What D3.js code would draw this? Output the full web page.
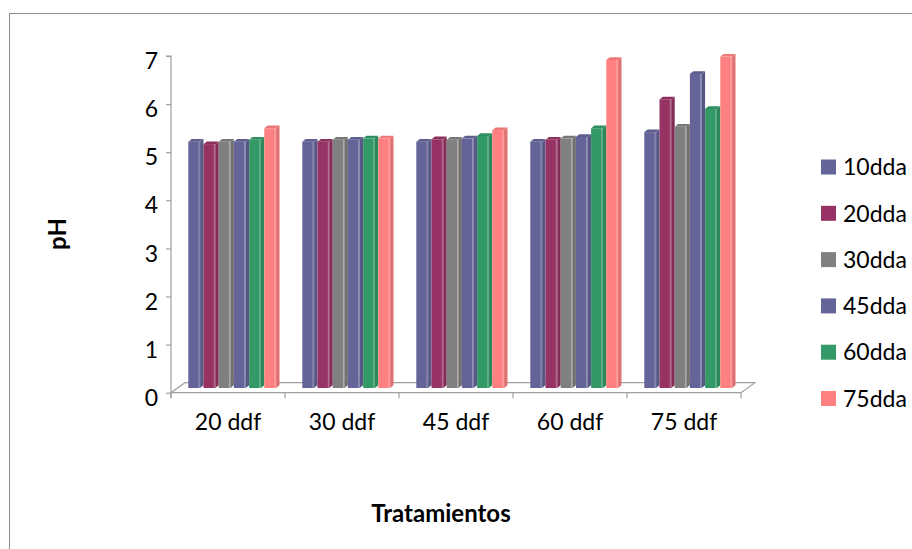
<!DOCTYPE html>
<html>
<head>
<meta charset="utf-8">
<script src="https://cdn.jsdelivr.net/npm/d3@7"></script>
<style>
  body { margin: 0; background: #fff; }
  svg text { font-family: Lato, "Open Sans", sans-serif; fill: #000; }
</style>
</head>
<body>
<svg class="chart"></svg>
<script>
const categories = ['20 ddf', '30 ddf', '45 ddf', '60 ddf', '75 ddf'];
const seriesNames = ['10dda', '20dda', '30dda', '45dda', '60dda', '75dda'];
const seriesColors = ['#646499', '#963264', '#808080', '#646499', '#339966', '#ff8080'];
// pH per series, one value per treatment
const s10 = [5.12, 5.12, 5.12, 5.12, 5.32];
const s20 = [5.07, 5.12, 5.17, 5.16, 6.00];
const s30 = [5.12, 5.16, 5.16, 5.19, 5.43];
const s45 = [5.12, 5.16, 5.19, 5.22, 6.53];
const s60 = [5.16, 5.19, 5.24, 5.40, 5.80];
const s75 = [5.40, 5.19, 5.36, 6.82, 6.89];
const yTicks = [0, 1, 2, 3, 4, 5, 6, 7];

const seriesValues = [s10, s20, s30, s45, s60, s75];
const bars = [];
categories.forEach((c, i) => {
  seriesNames.forEach((s, j) => {
    bars.push({cat: c, series: s, color: seriesColors[j], value: seriesValues[j][i]});
  });
});

const width = 912, height = 549;
const svg = d3.select('.chart')
  .attr('width', width)
  .attr('height', height);

// outer chart frame
svg.append('rect')
  .attr('x', 9.5).attr('y', 13.5)
  .attr('width', 1000).attr('height', 1000)
  .attr('fill', 'none')
  .attr('stroke', '#8c8c8c');

const x = d3.scaleBand().domain(categories).range([171, 741]);
const xs = d3.scaleBand().domain(seriesNames).range([17.3, 17.3 + 91.2]);
const y = d3.scaleLinear().domain([0, 7]).range([392.7, 56]);

// 3d depth offsets
const floorDx = 14, floorDy = -10;
const barOx = 0, barOy = -4.7;
const sideDx = 3.4, sideDy = -2.7;
const frontW = xs.bandwidth() - sideDx;

const axisColor = '#a0a0a0';

// floor
const floor = svg.append('g');
floor.append('path')
  .attr('d', `M${x.range()[0]},${y(0)} L${x.range()[1]},${y(0)} L${x.range()[1] + floorDx},${y(0) + floorDy} L${x.range()[0] + floorDx},${y(0) + floorDy} Z`)
  .attr('fill', '#fff')
  .attr('stroke', axisColor)
  .attr('stroke-width', 1.2);

// y axis
const yAxis = d3.axisLeft(y).tickValues(yTicks).tickFormat(d3.format('d')).tickSize(5).tickPadding(8);
const gy = svg.append('g').attr('transform', 'translate(171,0)').call(yAxis);
gy.select('.domain').attr('stroke', axisColor).attr('stroke-width', 1.2)
  .attr('d', `M-5,${y(7)}H0V${y(0) + 5}`);
gy.selectAll('.tick line').attr('stroke', axisColor).attr('stroke-width', 1.2);
gy.selectAll('.tick text')
  .attr('font-size', 23)
  .attr('font-family', 'Lato, sans-serif')
  .attr('dy', '0.55em')
  .attr('fill', '#000');

// x axis (front edge of floor)
const xAxis = d3.axisBottom(x).tickSize(0).tickPadding(21);
const gx = svg.append('g').attr('transform', `translate(0,${y(0)})`).call(xAxis);
gx.select('.domain').remove();
gx.selectAll('.tick text')
  .attr('font-size', 23)
  .attr('font-family', 'Lato, sans-serif')
  .attr('fill', '#000');
const xTickPos = categories.map(c => x(c)).concat([x.range()[1]]);
svg.append('g').selectAll('line').data(xTickPos)
  .enter().append('line')
  .attr('x1', d => d).attr('x2', d => d)
  .attr('y1', y(0)).attr('y2', y(0) + 5.5)
  .attr('stroke', axisColor)
  .attr('stroke-width', 1.2);

// bars
const barG = svg.append('g').selectAll('g').data(bars)
  .enter().append('g')
  .attr('transform', d => `translate(${x(d.cat) + xs(d.series) + barOx},${barOy})`);

barG.append('rect')
  .attr('x', 0)
  .attr('y', d => y(d.value))
  .attr('width', frontW)
  .attr('height', d => y(0) - y(d.value))
  .attr('fill', d => d.color);

barG.append('path')
  .attr('d', d => `M${frontW},${y(d.value)} l${sideDx},${sideDy} V${y(0) + sideDy} l${-sideDx},${-sideDy} Z`)
  .attr('fill', d => d3.color(d.color).darker(0.35));

barG.append('path')
  .attr('d', d => `M0,${y(d.value)} l${sideDx},${sideDy} h${frontW} l${-sideDx},${-sideDy} Z`)
  .attr('fill', d => d3.color(d.color).darker(0.2));

barG.append('line')
  .attr('x1', frontW - 1).attr('x2', frontW - 1)
  .attr('y1', d => y(d.value)).attr('y2', y(0))
  .attr('stroke', '#fff')
  .attr('stroke-opacity', 0.35);

// axis titles
svg.append('text')
  .attr('transform', 'translate(66,234) rotate(-90)')
  .attr('text-anchor', 'middle')
  .attr('font-size', 24)
  .attr('font-weight', 'bold')
  .text('pH');

svg.append('text')
  .attr('x', 441).attr('y', 522)
  .attr('text-anchor', 'middle')
  .attr('font-size', 24)
  .attr('font-weight', 'bold')
  .text('Tratamientos');

// legend
const legend = svg.append('g').selectAll('g').data(seriesNames)
  .enter().append('g')
  .attr('transform', (d, i) => `translate(821,${167 + i * 46.3})`);

legend.append('rect')
  .attr('x', 0).attr('y', -7.5)
  .attr('width', 15).attr('height', 15)
  .attr('fill', (d, i) => seriesColors[i]);

legend.append('text')
  .attr('x', 22).attr('dy', '0.36em')
  .attr('font-size', 23)
  .text(d => d);
</script>
</body>
</html>
